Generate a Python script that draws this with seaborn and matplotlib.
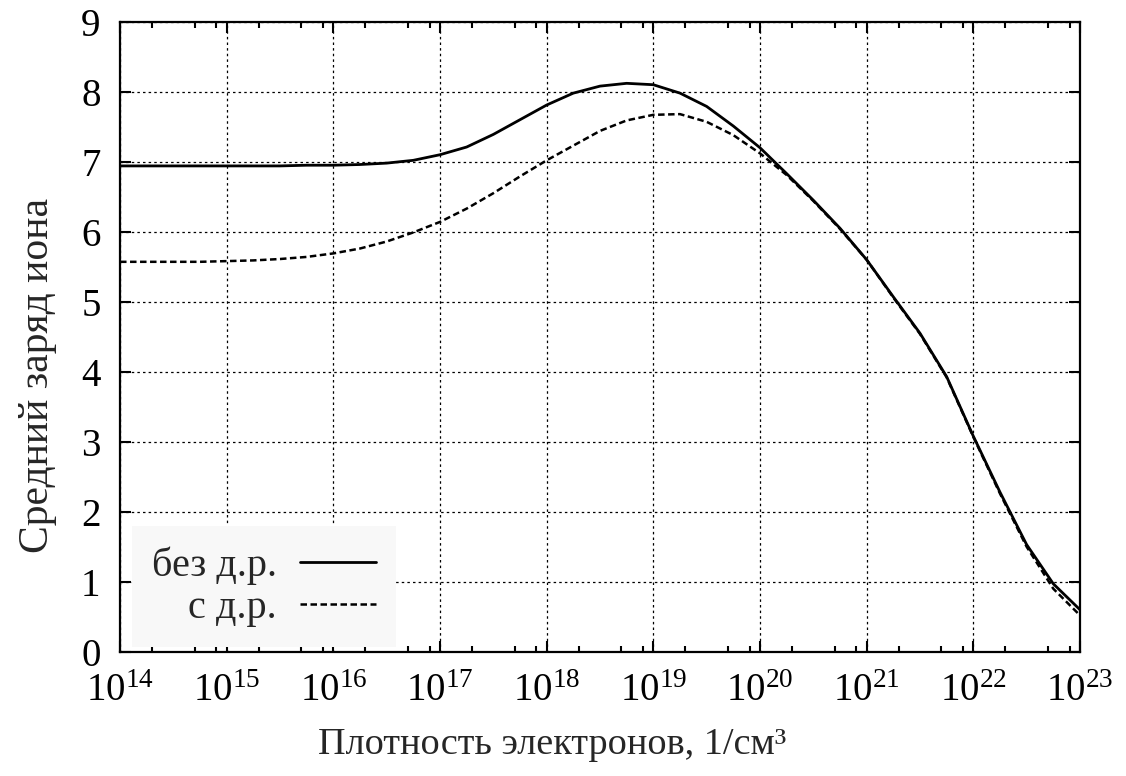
import numpy as np
import pandas as pd
import matplotlib
matplotlib.use("Agg")
import matplotlib.pyplot as plt
import matplotlib.ticker as mticker
import seaborn as sns

# -------------------- ДАННЫЕ --------------------
log_ne = [14.0, 14.25, 14.5, 14.75, 15.0, 15.25, 15.5, 15.75, 16.0, 16.25,
          16.5, 16.75, 17.0, 17.25, 17.5, 17.75, 18.0, 18.25, 18.5, 18.75,
          19.0, 19.25, 19.5, 19.75, 20.0, 20.25, 20.5, 20.75, 21.0, 21.25,
          21.5, 21.75, 22.0, 22.25, 22.5, 22.75, 23.0]

z_no_dr = [6.94, 6.94, 6.94, 6.94, 6.94, 6.94, 6.94, 6.95, 6.95, 6.96,
           6.98, 7.02, 7.10, 7.21, 7.39, 7.60, 7.81, 7.98, 8.08, 8.12,
           8.10, 7.98, 7.79, 7.51, 7.20, 6.83, 6.45, 6.05, 5.60, 5.07,
           4.55, 3.93, 3.08, 2.28, 1.53, 0.97, 0.60]

z_dr = [5.57, 5.57, 5.57, 5.57, 5.58, 5.59, 5.61, 5.64, 5.69, 5.76,
        5.86, 5.99, 6.14, 6.33, 6.55, 6.79, 7.02, 7.23, 7.44, 7.59,
        7.67, 7.68, 7.57, 7.38, 7.12, 6.81, 6.44, 6.04, 5.60, 5.06,
        4.54, 3.92, 3.07, 2.26, 1.50, 0.90, 0.52]

labels = ["без д.р.", "с д.р."]

ne = 10.0 ** np.array(log_ne)
df = pd.DataFrame({"ne": ne, "z1": z_no_dr, "z2": z_dr})

# -------------------- СТИЛЬ --------------------
sns.set_theme(style="ticks")
plt.rcParams["font.family"] = ["Liberation Serif", "DejaVu Serif"]
plt.rcParams["mathtext.fontset"] = "custom"
plt.rcParams["mathtext.rm"] = "Liberation Serif"
plt.rcParams["mathtext.it"] = "Liberation Serif:italic"
plt.rcParams["axes.linewidth"] = 1.6

fig, ax = plt.subplots(figsize=(11.26, 7.76), dpi=100)
fig.subplots_adjust(left=0.1066, right=0.9591, top=0.972, bottom=0.1602)

sns.lineplot(data=df, x="ne", y="z1", ax=ax, color="black", lw=2.0,
             label=labels[0])
sns.lineplot(data=df, x="ne", y="z2", ax=ax, color="black", lw=1.8,
             linestyle=(0, (2.6, 1.4)), label=labels[1])

ax.set_xscale("log")
ax.set_xlim(1e14, 1e23)
ax.set_ylim(0, 9)
ax.xaxis.set_major_locator(mticker.LogLocator(base=10, numticks=20))
ax.xaxis.set_minor_locator(mticker.LogLocator(base=10, subs=[2, 5, 8], numticks=20))
ax.xaxis.set_minor_formatter(mticker.NullFormatter())
ax.yaxis.set_major_locator(mticker.MultipleLocator(1))

ax.grid(True, which="major", color="black", lw=0.9, linestyle=(0, (2, 2.5)))
ax.set_axisbelow(True)

ax.tick_params(which="both", direction="in", top=True, right=True,
               colors="black", labelsize=28, width=1.5)
ax.tick_params(which="major", length=8)
ax.tick_params(which="minor", length=4)
ax.tick_params(axis="x", which="major", pad=15)
ax.tick_params(axis="y", which="major", pad=14)
for sp in ax.spines.values():
    sp.set_color("black")

ax.set_xlabel("Плотность электронов, 1/см³", fontsize=27.5)
ax.set_ylabel("Средний заряд иона", fontsize=30)
ax.xaxis.set_label_coords(0.45, -0.121)
ax.yaxis.set_label_coords(-0.066, 0.438)

leg = ax.legend(loc="lower left", bbox_to_anchor=(0.012, 0.0075),
                borderaxespad=0, markerfirst=False, fontsize=29,
                frameon=True, fancybox=False, framealpha=1,
                facecolor="#f8f8f8", edgecolor="none",
                handlelength=1.9, handletextpad=0.57,
                borderpad=0.5, labelspacing=0.12)

plt.savefig("out.png", dpi=100)
plt.close()
